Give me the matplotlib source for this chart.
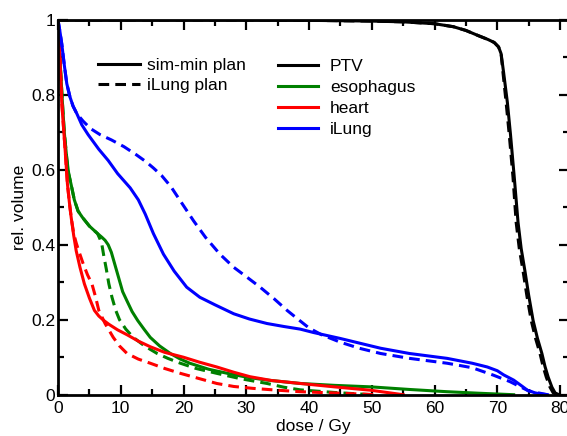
import matplotlib
matplotlib.use("Agg")
import matplotlib.pyplot as plt
from matplotlib.lines import Line2D
from matplotlib.ticker import MultipleLocator, FuncFormatter

plt.rcParams['font.family'] = ['Liberation Sans', 'DejaVu Sans']

# ---- data (dose in Gy, relative volume) ----
ptv_sim_x = [0, 30, 40, 50, 55, 60, 63, 65, 67, 68.5, 69.5, 70.2, 70.6, 71.0, 71.6, 72.1, 72.7, 73.3,
             73.8, 74.4, 75.0, 75.7, 76.4, 77.1, 77.6, 78.1, 78.7, 79.2, 79.8]
ptv_sim_y = [1, 1, 0.999, 0.997, 0.995, 0.99, 0.982, 0.972, 0.958, 0.948, 0.94, 0.928, 0.91, 0.86, 0.78, 0.694, 0.58, 0.46,
             0.39, 0.33, 0.265, 0.198, 0.15, 0.11, 0.075, 0.047, 0.02, 0.005, 0]
ptv_il_x = [0, 30, 40, 50, 55, 60, 63, 65, 67, 68.5, 69.5, 70.2, 70.6, 70.9, 71.4, 71.9, 72.5, 73.0,
            73.5, 74.1, 74.7, 75.4, 76.1, 76.8, 77.3, 77.8, 78.4, 78.9, 79.6]
ptv_il_y = [1, 1, 0.999, 0.997, 0.995, 0.99, 0.982, 0.972, 0.958, 0.948, 0.94, 0.928, 0.91, 0.86, 0.78, 0.694, 0.58, 0.46,
            0.39, 0.33, 0.265, 0.198, 0.15, 0.11, 0.075, 0.047, 0.02, 0.005, 0]

eso_sim_x = [0, 0.15, 0.3, 0.5, 0.7, 1.0, 1.4, 1.7, 2.1, 2.6, 3.2, 3.9, 5.0, 6.3, 7.0, 7.5, 8.0, 8.5, 9.1, 9.7,
             10.3, 11.0, 11.8, 12.7, 13.7, 14.7, 16.2, 17.9, 19.5, 21, 24, 27, 30, 33.3, 38.6, 44, 49.8, 56, 62, 67, 72.6]
eso_sim_y = [1, 0.95, 0.9, 0.84, 0.78, 0.7, 0.63, 0.59, 0.56, 0.52, 0.49, 0.473, 0.45, 0.43, 0.42, 0.412, 0.4, 0.38, 0.345, 0.31,
             0.275, 0.25, 0.222, 0.198, 0.175, 0.153, 0.13, 0.11, 0.095, 0.084, 0.068, 0.057, 0.047, 0.039, 0.03, 0.025, 0.021, 0.014, 0.008, 0.004, 0]
eso_il_x = [0, 0.15, 0.3, 0.5, 0.7, 1.0, 1.4, 1.7, 2.1, 2.6, 3.2, 3.9, 5.0, 6.3, 6.7, 7.0, 7.3, 7.7, 8.1, 8.6,
            9.2, 9.8, 10.8, 12.0, 13.8, 15.8, 17.5, 19.5, 22, 25.3, 29, 33.3, 36, 38.6, 44, 50]
eso_il_y = [1, 0.95, 0.9, 0.84, 0.78, 0.7, 0.63, 0.59, 0.56, 0.52, 0.49, 0.473, 0.45, 0.43, 0.415, 0.4, 0.37, 0.335, 0.296, 0.26,
            0.225, 0.2, 0.175, 0.153, 0.13, 0.11, 0.097, 0.084, 0.07, 0.057, 0.043, 0.03, 0.02, 0.013, 0.006, 0]

heart_sim_x = [0, 0.15, 0.3, 0.45, 0.6, 0.85, 1.15, 1.5, 1.8, 2.1, 2.5, 2.9, 3.5, 4.2, 5.0, 5.8, 6.5, 7.3, 8.1,
               9.5, 11, 12.8, 14.7, 17, 20, 22.5, 25.3, 28, 30.6, 34, 38.6, 44, 49.8, 55]
heart_sim_y = [1, 0.95, 0.9, 0.84, 0.78, 0.72, 0.65, 0.563, 0.515, 0.473, 0.425, 0.384, 0.34, 0.296, 0.258, 0.225, 0.21, 0.198, 0.188,
               0.173, 0.16, 0.143, 0.128, 0.113, 0.1, 0.087, 0.074, 0.06, 0.048, 0.038, 0.03, 0.021, 0.012, 0]
heart_il_x = [0, 0.15, 0.3, 0.45, 0.6, 0.85, 1.15, 1.5, 1.8, 2.1, 2.5, 2.9, 3.3, 4.0, 4.7, 5.4, 6.0, 6.5, 7.5,
              8.8, 9.8, 11, 12.8, 14.7, 17, 19.5, 22.5, 25.3, 28, 31, 35, 38.6, 45, 51]
heart_il_y = [1, 0.95, 0.9, 0.84, 0.78, 0.72, 0.65, 0.563, 0.515, 0.473, 0.43, 0.405, 0.384, 0.35, 0.32, 0.296, 0.26, 0.225, 0.19,
              0.153, 0.13, 0.11, 0.095, 0.084, 0.07, 0.057, 0.043, 0.03, 0.022, 0.017, 0.012, 0.008, 0.004, 0]

lung_sim_x = [0, 0.3, 0.6, 1.0, 1.4, 1.9, 2.4, 3.0, 3.8, 4.8, 6.5, 8.0, 9.5, 11.5, 12.8, 13.9, 15.2, 16.8, 18.5,
              20.5, 22.6, 25, 28, 30.5, 33.3, 36, 38.6, 40.7, 45, 51.4, 56, 62, 66, 68.4, 70, 71, 72.6, 74, 74.8, 76, 76.9, 78]
lung_sim_y = [1, 0.97, 0.936, 0.88, 0.83, 0.795, 0.77, 0.75, 0.72, 0.694, 0.655, 0.625, 0.59, 0.552, 0.52, 0.482, 0.43, 0.375, 0.33,
              0.287, 0.26, 0.24, 0.216, 0.202, 0.19, 0.182, 0.175, 0.166, 0.15, 0.124, 0.11, 0.097, 0.084, 0.074, 0.064, 0.053, 0.039, 0.022, 0.012, 0.005, 0.002, 0]
lung_il_x = [0, 0.3, 0.6, 1.0, 1.4, 1.9, 2.4, 3.0, 4.0, 5.2, 6.7, 8.5, 10.5, 12.5, 14, 15.2, 16.5, 18, 19.5, 21.6,
             23.5, 25.8, 28, 30, 32.2, 34.5, 36.5, 38.5, 40, 42, 45, 48, 51.4, 56, 62, 66, 69.4, 72, 75, 78]
lung_il_y = [1, 0.97, 0.936, 0.88, 0.83, 0.795, 0.77, 0.75, 0.73, 0.71, 0.694, 0.68, 0.662, 0.64, 0.622, 0.605, 0.585, 0.555, 0.517, 0.464,
             0.42, 0.375, 0.34, 0.315, 0.287, 0.255, 0.225, 0.198, 0.178, 0.16, 0.14, 0.124, 0.11, 0.097, 0.084, 0.072, 0.052, 0.035, 0.01, 0]

structures = ["PTV", "esophagus", "heart", "iLung"]
colors = ["black", "#008000", "#ff0000", "#0000ff"]
plan_labels = ["sim-min plan", "iLung plan"]
x_ticks = [0, 10, 20, 30, 40, 50, 60, 70, 80]
y_ticks = [0, 0.2, 0.4, 0.6, 0.8, 1]

curves = [
    (ptv_sim_x, ptv_sim_y, ptv_il_x, ptv_il_y),
    (eso_sim_x, eso_sim_y, eso_il_x, eso_il_y),
    (heart_sim_x, heart_sim_y, heart_il_x, heart_il_y),
    (lung_sim_x, lung_sim_y, lung_il_x, lung_il_y),
]

FS = 12.5
fig = plt.figure(figsize=(5.67, 4.36), dpi=100)
ax = fig.add_axes([0.1023, 0.0947, 0.901, 0.8595])

lw = 2.2
dash = (0, (3.5, 2.0))
for (sx, sy, ix, iy), c in zip(curves, colors):
    ax.plot(sx, sy, color=c, lw=lw, ls='-', solid_joinstyle='round')
    ax.plot(ix, iy, color=c, lw=lw, ls=dash)

ax.set_xlim(0, 81.4)
ax.set_ylim(0, 1)
ax.set_xticks(x_ticks)
ax.set_yticks(y_ticks)
ax.xaxis.set_minor_locator(MultipleLocator(5))
ax.yaxis.set_minor_locator(MultipleLocator(0.1))
ax.yaxis.set_major_formatter(FuncFormatter(lambda v, p: "0" if v == 0 else ("1" if v == 1 else f"{v:.1f}")))
ax.tick_params(which='both', direction='in', top=True, right=True, width=1.6,
               labelsize=FS, pad=2)
ax.tick_params(axis='x', which='both', pad=4.5)
ax.tick_params(which='major', length=7.5)
ax.tick_params(which='minor', length=4)
for s in ax.spines.values():
    s.set_linewidth(2.0)

ax.set_xlabel("dose / Gy", fontsize=FS, labelpad=2)
ax.set_ylabel("rel. volume", fontsize=FS, labelpad=3)

h1 = [Line2D([], [], color='black', lw=lw, ls='-'),
      Line2D([], [], color='black', lw=lw, ls=dash)]
leg1 = ax.legend(h1, plan_labels, loc='upper left', bbox_to_anchor=(0.078, 0.90),
                 frameon=False, fontsize=FS, handlelength=2.4, handletextpad=0.45,
                 labelspacing=0.33, borderaxespad=0, borderpad=0)
ax.add_artist(leg1)
h2 = [Line2D([], [], color=c, lw=lw) for c in colors]
ax.legend(h2, structures, loc='upper left', bbox_to_anchor=(0.4305, 0.895),
          frameon=False, fontsize=FS, handlelength=2.3, handletextpad=0.7,
          labelspacing=0.33, borderaxespad=0, borderpad=0)

fig.savefig("out.png", dpi=100)
